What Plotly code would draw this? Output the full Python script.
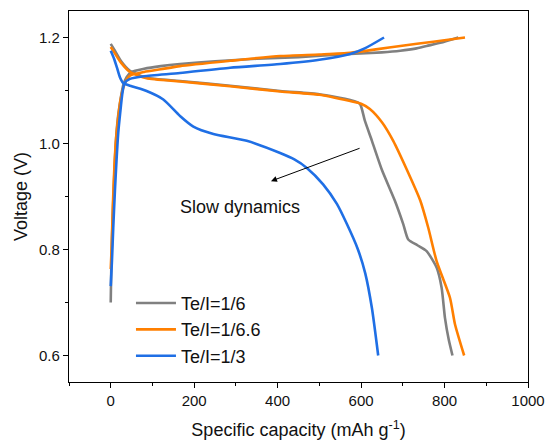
import plotly.graph_objects as go

# ---- data ----
gray_charge_x = [0, 1, 3, 6, 9, 12, 16, 20, 25, 30, 38, 50, 80, 120, 166, 250, 350, 450, 574, 650, 694, 730, 757, 790, 833]
gray_charge_y = [0.70, 0.75, 0.82, 0.89, 0.95, 1.00, 1.04, 1.065, 1.09, 1.11, 1.125, 1.135, 1.141, 1.146, 1.150, 1.155, 1.160, 1.163, 1.169, 1.172, 1.175, 1.179, 1.184, 1.190, 1.200]
gray_dis_x = [0, 10, 25, 46, 86, 166, 286, 406, 500, 574, 597, 609, 626, 650, 681, 701, 713, 735, 757, 781, 793, 801, 810, 819]
gray_dis_y = [1.188, 1.175, 1.155, 1.137, 1.124, 1.118, 1.109, 1.099, 1.093, 1.082, 1.075, 1.043, 1.005, 0.95, 0.892, 0.848, 0.819, 0.808, 0.797, 0.766, 0.728, 0.671, 0.63, 0.60]

orange_charge_x = [0, 2, 5, 9, 13, 18, 23, 30, 38, 46, 80, 120, 166, 286, 406, 500, 574, 640, 694, 773, 849]
orange_charge_y = [0.763, 0.80, 0.88, 0.96, 1.01, 1.05, 1.08, 1.105, 1.12, 1.128, 1.135, 1.140, 1.146, 1.156, 1.165, 1.168, 1.171, 1.178, 1.184, 1.192, 1.200]
orange_dis_x = [0, 10, 25, 46, 86, 166, 286, 406, 500, 574, 600, 621, 650, 677, 710, 742, 761, 781, 813, 825, 847]
orange_dis_y = [1.182, 1.170, 1.152, 1.135, 1.123, 1.117, 1.108, 1.098, 1.092, 1.080, 1.075, 1.065, 1.04, 1.005, 0.95, 0.892, 0.841, 0.778, 0.709, 0.659, 0.60]

blue_charge_x = [0, 3, 6, 10, 14, 18, 23, 28, 33, 46, 80, 166, 286, 406, 500, 574, 610, 655]
blue_charge_y = [0.731, 0.78, 0.84, 0.91, 0.97, 1.02, 1.06, 1.095, 1.114, 1.122, 1.127, 1.133, 1.143, 1.150, 1.158, 1.169, 1.180, 1.200]
blue_dis_x = [0, 8, 15, 22, 30, 50, 86, 126, 166, 198, 246, 326, 406, 440, 470, 509, 542, 566, 592, 610, 626, 641]
blue_dis_y = [1.175, 1.16, 1.143, 1.125, 1.114, 1.108, 1.099, 1.083, 1.052, 1.032, 1.018, 1.005, 0.982, 0.970, 0.954, 0.923, 0.886, 0.848, 0.801, 0.755, 0.689, 0.60]

labels = ["Te/I=1/6", "Te/I=1/6.6", "Te/I=1/3"]
colors = ["#808080", "#ff7f00", "#1f6fe5"]

FONT = "Liberation Sans, Arial, sans-serif"

fig = go.Figure()
series = [
    (gray_charge_x, gray_charge_y, gray_dis_x, gray_dis_y),
    (orange_charge_x, orange_charge_y, orange_dis_x, orange_dis_y),
    (blue_charge_x, blue_charge_y, blue_dis_x, blue_dis_y),
]
for (cx, cy, dx, dy), lab, col in zip(series, labels, colors):
    fig.add_trace(go.Scatter(x=cx, y=cy, mode="lines", name=lab, legendgroup=lab,
                             line=dict(color=col, width=2.6, shape="spline", smoothing=0.6)))
    fig.add_trace(go.Scatter(x=dx, y=dy, mode="lines", name=lab, legendgroup=lab, showlegend=False,
                             line=dict(color=col, width=2.6, shape="spline", smoothing=0.6)))

fig.add_annotation(x=384, y=0.929, ax=600, ay=0.992, xref="x", yref="y", axref="x", ayref="y",
                   text="", showarrow=True, arrowhead=2, arrowsize=1.2, arrowwidth=1, arrowcolor="black")
fig.add_annotation(x=310, y=0.880, xref="x", yref="y", text="Slow dynamics", showarrow=False,
                   font=dict(family=FONT, size=18, color="#111"))

axis_common = dict(showline=True, linecolor="black", linewidth=1.3, mirror=True, ticks="outside",
                   tickcolor="black", tickwidth=1.3, ticklen=5, showgrid=False, zeroline=False,
                   ticklabeloverflow="allow", automargin=False,
                   tickfont=dict(family=FONT, size=15, color="#111"))
fig.update_xaxes(range=[-100, 1000], tick0=0, dtick=200,
                 minor=dict(dtick=100, ticks="outside", ticklen=3, tickcolor="black", tickwidth=1.3),
                 title=dict(text="Specific capacity (mAh g<sup>-1</sup>)", font=dict(family=FONT, size=18, color="#111"), standoff=15),
                 **axis_common)
fig.update_yaxes(range=[0.55, 1.25], tick0=0.6, dtick=0.2, tickformat=".1f",
                 minor=dict(dtick=0.1, ticks="outside", ticklen=3, tickcolor="black", tickwidth=1.3),
                 title=dict(text="Voltage (V)", font=dict(family=FONT, size=18, color="#111"), standoff=6),
                 **axis_common)

fig.update_layout(
    width=547, height=448,
    margin=dict(l=69, r=19, t=11, b=66),
    plot_bgcolor="white", paper_bgcolor="white",
    legend=dict(x=0.135, y=0.262, xanchor="left", yanchor="top", bgcolor="rgba(0,0,0,0)",
                font=dict(family=FONT, size=18, color="#111"), itemwidth=40, tracegroupgap=0),
    showlegend=True,
)

fig.write_html("out.html")
